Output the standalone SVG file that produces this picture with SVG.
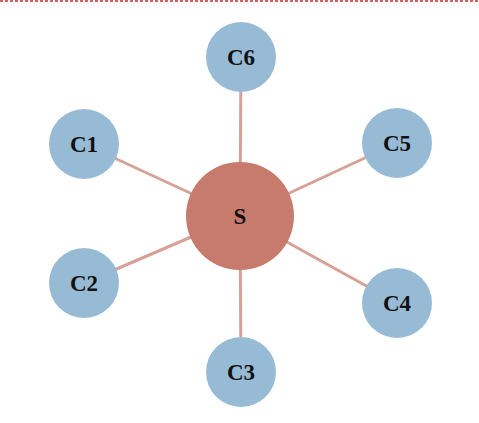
<svg xmlns="http://www.w3.org/2000/svg" width="479" height="423" viewBox="0 0 479 423">
<style>
.c{fill:#98bbd5}
.s{fill:#c77b6c}
.e line{stroke:#d6a197;stroke-width:3}
text{font-family:"Liberation Serif","DejaVu Serif",serif;font-weight:bold;font-size:23px;fill:#111;text-anchor:middle;dominant-baseline:central}
</style>
<rect width="479" height="423" fill="#fff"/>
<line x1="0" y1="1" x2="479" y2="1" stroke="#cc2a2a" stroke-width="1.5" stroke-dasharray="3,2"/>
<g id="connectors" class="e">
<line x1="240" y1="216" x2="241" y2="57"/>
<line x1="240" y1="216" x2="84" y2="144"/>
<line x1="240" y1="216" x2="397" y2="143"/>
<line x1="240" y1="216" x2="84" y2="283"/>
<line x1="240" y1="216" x2="397" y2="303"/>
<line x1="240" y1="216" x2="241" y2="372"/>
</g>
<g id="S"><circle class="s" cx="240" cy="216" r="54"/><text x="240" y="216">S</text></g>
<g id="C6"><circle class="c" cx="241" cy="57" r="35"/><text x="241" y="57">C6</text></g>
<g id="C1"><circle class="c" cx="84" cy="144" r="35"/><text x="84" y="144">C1</text></g>
<g id="C5"><circle class="c" cx="397" cy="143" r="35"/><text x="397" y="143">C5</text></g>
<g id="C2"><circle class="c" cx="84" cy="283" r="35"/><text x="84" y="283">C2</text></g>
<g id="C4"><circle class="c" cx="397" cy="303" r="35"/><text x="397" y="303">C4</text></g>
<g id="C3"><circle class="c" cx="241" cy="372" r="35"/><text x="241" y="372">C3</text></g>
</svg>
